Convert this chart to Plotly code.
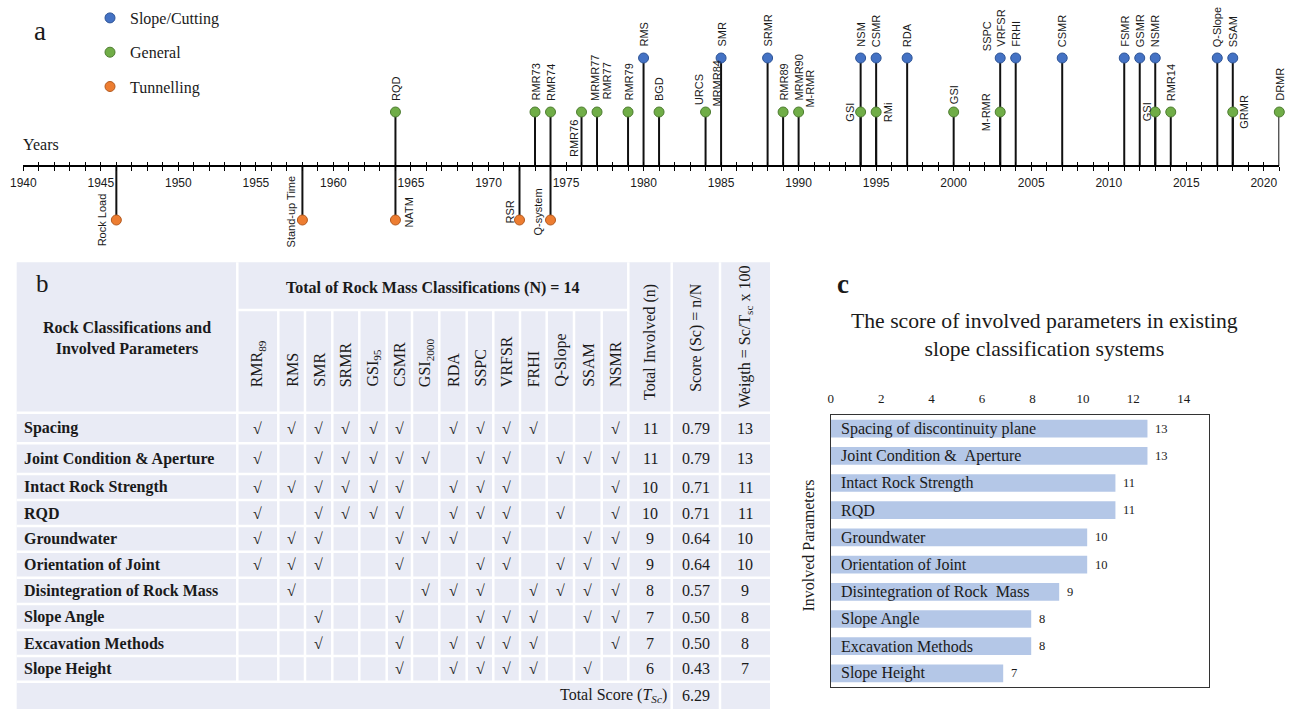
import plotly.graph_objects as go

W, H = 1292, 710

# ---------------- Panel a : timeline data ----------------
slope_years = [1980, 1985, 1988, 1994, 1995, 1997, 2003, 2004, 2007, 2011, 2012, 2013, 2017, 2018]
slope_names = ["RMS", "SMR", "SRMR", "NSM", "CSMR", "RDA", "VRFSR", "FRHI", "CSMR", "FSMR", "GSMR", "NSMR", "Q-Slope", "SSAM"]
general_years = [1964, 1973, 1974, 1976, 1977, 1979, 1981, 1984, 1989, 1990, 1994, 1995, 2000, 2003, 2013, 2014, 2018, 2021]
general_names = ["RQD", "RMR73", "RMR74", "RMR76", "MRMR77", "RMR79", "BGD", "MRMR84", "RMR89", "MRMR90", "GSI", "RMi", "GSI", "M-RMR", "GSI", "RMR14", "GRMR", "DRMR"]
tunnel_years = [1946, 1958, 1964, 1972, 1974]
tunnel_names = ["Rock Load", "Stand-up Time", "NATM", "RSR", "Q-system"]
# extra names that share a marker with another system
extra_groups = ["Slope/Cutting", "General", "General", "General"]
extra_years = [2003, 1977, 1984, 1990]
extra_names = ["SSPC", "RMR77", "URCS", "M-RMR"]

# ---------------- Panel b : table data ----------------
systems = ["RMR<sub>89</sub>", "RMS", "SMR", "SRMR", "GSI<sub>95</sub>", "CSMR", "GSI<sub>2000</sub>",
           "RDA", "SSPC", "VRFSR", "FRHI", "Q-Slope", "SSAM", "NSMR"]
parameters = ["Spacing", "Joint Condition &amp; Aperture", "Intact Rock Strength", "RQD", "Groundwater",
              "Orientation of Joint", "Disintegration of Rock Mass", "Slope Angle", "Excavation Methods", "Slope Height"]
involved = [
    [1, 1, 1, 1, 1, 1, 0, 1, 1, 1, 1, 0, 0, 1],
    [1, 0, 1, 1, 1, 1, 1, 0, 1, 1, 0, 1, 1, 1],
    [1, 1, 1, 1, 1, 1, 0, 1, 1, 1, 0, 0, 0, 1],
    [1, 0, 1, 1, 1, 1, 0, 1, 1, 1, 0, 1, 0, 1],
    [1, 1, 1, 0, 0, 1, 1, 1, 0, 1, 0, 0, 1, 1],
    [1, 1, 1, 0, 0, 1, 0, 0, 1, 1, 0, 1, 1, 1],
    [0, 1, 0, 0, 0, 0, 1, 1, 1, 0, 1, 1, 1, 1],
    [0, 0, 1, 0, 0, 1, 0, 0, 1, 1, 1, 0, 1, 1],
    [0, 0, 1, 0, 0, 1, 0, 1, 1, 1, 1, 0, 0, 1],
    [0, 0, 0, 0, 0, 1, 0, 1, 1, 1, 1, 0, 1, 0],
]
total_involved = ["11", "11", "10", "10", "9", "9", "8", "7", "7", "6"]
scores = ["0.79", "0.79", "0.71", "0.71", "0.64", "0.64", "0.57", "0.50", "0.50", "0.43"]
weights = ["13", "13", "11", "11", "10", "10", "9", "8", "8", "7"]
total_score = "6.29"

# ---------------- Panel c : bar data ----------------
c_params = ["Spacing of discontinuity plane", "Joint Condition & \u00a0Aperture", "Intact Rock Strength", "RQD",
            "Groundwater", "Orientation of Joint", "Disintegration of Rock \u00a0Mass", "Slope Angle",
            "Excavation Methods", "Slope Height"]
c_values = [12.56, 12.56, 11.29, 11.29, 10.17, 10.17, 9.06, 7.95, 7.95, 6.84]
c_labels = ["13", "13", "11", "11", "10", "10", "9", "8", "8", "7"]

# ---------------- styles / layout helpers ----------------
SERIF = "Liberation Serif"
SANS = "Liberation Sans"
INK = "#1a1a1a"
LEVEL = {"Slope/Cutting": 1.0, "General": 0.5, "Tunnelling": -0.5}
COLORS = {"Slope/Cutting": ("#4472C4", "#2F5597"),
          "General": ("#70AD47", "#4E7D31"),
          "Tunnelling": ("#ED7D31", "#B35A1F")}
# label placement: (xshift px, yshift px, yanchor)
PLACE = {
    ("SSPC", 2003): (-13, 5, "bottom"),
    ("RMR76", 1976): (-8, -6, "top"),
    ("MRMR77", 1977): (-2, 9, "bottom"),
    ("RMR77", 1977): (9, 10, "bottom"),
    ("URCS", 1984): (-7, 5, "bottom"),
    ("MRMR84", 1984): (11, 3, "bottom"),
    ("M-RMR", 1990): (11, 2, "bottom"),
    ("GSI", 1994): (-11, 0, "middle"),
    ("RMi", 1995): (12, 0, "middle"),
    ("GSI", 2000): (0, 6, "bottom"),
    ("M-RMR", 2003): (-14, 0, "middle"),
    ("GSI", 2013): (-8, 0, "middle"),
    ("GRMR", 2018): (11, 0, "middle"),
    ("Rock Load", 1946): (-14, 0, "middle"),
    ("Stand-up Time", 1958): (-11, 9, "middle"),
    ("NATM", 1964): (14, 8, "middle"),
    ("RSR", 1972): (-10, 8, "middle"),
    ("Q-system", 1974): (-13, 8, "middle"),
}
AXIS_PX, UNIT_PX, TL_BOTTOM_PX = 166, 108, 250


def px(x):
    return x / W


def py(y):
    return 1 - y / H


fig = go.Figure()

groups = [("Slope/Cutting", slope_years, slope_names),
          ("General", general_years, general_names),
          ("Tunnelling", tunnel_years, tunnel_names)]

# stems
sx, sy = [], []
for g, yrs, _ in groups:
    for yr in yrs:
        sx += [yr, yr, None]
        sy += [0, LEVEL[g], None]
fig.add_trace(go.Scatter(x=sx, y=sy, mode="lines", line=dict(color="#111111", width=2),
                         showlegend=False, hoverinfo="skip", xaxis="x", yaxis="y"))
# dummy trace for overlaid tick axis
fig.add_trace(go.Scatter(x=[1940], y=[None], xaxis="x2", yaxis="y", showlegend=False, hoverinfo="skip"))

for g, yrs, names in groups:
    fill, edge = COLORS[g]
    fig.add_trace(go.Scatter(x=yrs, y=[LEVEL[g]] * len(yrs), mode="markers", name=g, legendgroup=g,
                             marker=dict(size=10, color=fill, line=dict(color=edge, width=1)),
                             cliponaxis=False, text=names, hoverinfo="text+x", xaxis="x", yaxis="y"))

all_labels = [(g, yr, nm) for g, yrs, names in groups for yr, nm in zip(yrs, names)]
all_labels += list(zip(extra_groups, extra_years, extra_names))
for g, yr, nm in all_labels:
    dx, dy, ya = PLACE.get((nm, yr), (0, 9, "bottom"))
    fig.add_annotation(x=yr, y=LEVEL[g], xref="x", yref="y", text=nm, textangle=-90, showarrow=False,
                       xanchor="center", yanchor=ya, xshift=dx, yshift=dy,
                       font=dict(family=SANS, size=11, color=INK))

fig.add_annotation(x=px(40), y=py(31), xref="paper", yref="paper", text="a", showarrow=False,
                   font=dict(family=SERIF, size=27, color=INK), xanchor="center", yanchor="middle")
fig.add_annotation(x=px(21), y=py(145), xref="paper", yref="paper", text="Years", showarrow=False,
                   font=dict(family=SERIF, size=16, color=INK), xanchor="left", yanchor="middle")

# ---------------- Panel b : table ----------------
col_edges = [16.7, 237.3, 278.3, 305, 332.3, 359.3, 386.7, 412, 439.3, 466.7, 493.3, 520, 546.7, 574,
             601.7, 628.3, 671.7, 720, 770]
row_edges = [412.7, 443.3, 474, 500, 526, 551.7, 577.7, 604, 630, 656, 681.7, 709]
T_TOP, H1_BOT = 262.3, 310
TBL_BG = "#E9EBF5"

shapes = [dict(type="rect", xref="paper", yref="paper", x0=px(col_edges[0]), x1=px(col_edges[-1]),
               y0=py(row_edges[-1]), y1=py(T_TOP), fillcolor=TBL_BG, line=dict(width=0), layer="below")]


def wline(x0, y0, x1, y1):
    shapes.append(dict(type="line", xref="paper", yref="paper", x0=px(x0), x1=px(x1), y0=py(y0), y1=py(y1),
                       line=dict(color="white", width=2.5), layer="below"))


wline(col_edges[1], H1_BOT, col_edges[15], H1_BOT)
for ry in row_edges[:-1]:
    wline(col_edges[0], ry, col_edges[-1], ry)
wline(col_edges[1], T_TOP, col_edges[1], row_edges[-2])
for cx in col_edges[2:15]:
    wline(cx, H1_BOT, cx, row_edges[-2])
wline(col_edges[15], T_TOP, col_edges[15], row_edges[-2])
wline(col_edges[16], T_TOP, col_edges[16], row_edges[-1])
wline(col_edges[17], T_TOP, col_edges[17], row_edges[-1])


def ann(x, y, text, size=16, xa="center", ya="middle", angle=0, family=SERIF):
    fig.add_annotation(x=px(x), y=py(y), xref="paper", yref="paper", text=text, showarrow=False,
                       xanchor=xa, yanchor=ya, textangle=angle, font=dict(family=family, size=size, color=INK))


ann(42, 283, "b", size=25)
ann(127, 338, "<b>Rock Classifications and<br>Involved Parameters</b>", size=16)
ann((col_edges[1] + col_edges[15]) / 2, 288, "<b>Total of Rock Mass Classifications (N) = 14</b>", size=16)
for j, s in enumerate(systems):
    cx = (col_edges[1 + j] + col_edges[2 + j]) / 2
    ann(cx, 389, s, size=16, ya="bottom", angle=-90)
ann((col_edges[15] + col_edges[16]) / 2, 342, "Total Involved (n)", size=16, angle=-90)
ann((col_edges[16] + col_edges[17]) / 2, 337, "Score (Sc) = n/N", size=16, angle=-90)
ann((col_edges[17] + col_edges[18]) / 2, 337, "Weigth = Sc/T<sub>sc</sub> x 100", size=16, angle=-90)

for i, p in enumerate(parameters):
    cy = (row_edges[i] + row_edges[i + 1]) / 2
    ann(21.5, cy, "<b>" + p + "</b>", size=16, xa="left")
    for j in range(len(systems)):
        if involved[i][j]:
            cx = (col_edges[1 + j] + col_edges[2 + j]) / 2
            ann(cx, cy, "\u221a", size=16)
    ann((col_edges[15] + col_edges[16]) / 2, cy, total_involved[i], size=16)
    ann((col_edges[16] + col_edges[17]) / 2, cy, scores[i], size=16)
    ann((col_edges[17] + col_edges[18]) / 2, cy, weights[i], size=16)
cy = (row_edges[-2] + row_edges[-1]) / 2
ann(col_edges[16] - 3, cy, "Total Score (<i>T<sub>Sc</sub></i>)", size=16, xa="right")
ann((col_edges[16] + col_edges[17]) / 2, cy, total_score, size=16)

# ---------------- Panel c : bar chart ----------------
fig.add_trace(go.Bar(x=c_values, y=c_params, orientation="h", xaxis="x3", yaxis="y3",
                     marker=dict(color="#B4C7E7", line=dict(width=0)), showlegend=False, hoverinfo="x+y"))
for p, v, lab in zip(c_params, c_values, c_labels):
    fig.add_annotation(x=0, y=p, xref="x3", yref="y3", text=p, showarrow=False, xanchor="left", xshift=8,
                       font=dict(family=SERIF, size=16, color=INK))
    fig.add_annotation(x=v, y=p, xref="x3", yref="y3", text=lab, showarrow=False, xanchor="left", xshift=6,
                       font=dict(family=SERIF, size=12.5, color=INK))

ann(842.5, 284, "<b>c</b>", size=27)
ann(1044.5, 335, "The score of involved parameters in existing<br>slope classification systems", size=21.7)
ann(807.5, 546, "Involved Parameters", size=16, angle=-90)

fig.update_layout(
    width=W, height=H, margin=dict(l=0, r=0, t=0, b=0, autoexpand=False),
    paper_bgcolor="white", plot_bgcolor="rgba(0,0,0,0)",
    shapes=shapes, bargap=0.35, hovermode="closest",
    showlegend=True,
    legend=dict(x=px(90), y=py(1), xanchor="left", yanchor="top", bgcolor="rgba(0,0,0,0)",
                font=dict(family=SERIF, size=16, color=INK), tracegroupgap=10.5, itemclick=False,
                itemdoubleclick=False),
    xaxis=dict(domain=[px(23.3), px(1279.3)], range=[1940, 2021], anchor="free", position=py(AXIS_PX),
               showline=True, linecolor="black", linewidth=1.5, showgrid=False, zeroline=False,
               ticks="outside", ticklen=4, tickwidth=1.2, tickcolor="black", tick0=1940, dtick=5,
               minor=dict(ticks="outside", dtick=1, tick0=1940, ticklen=4, tickwidth=1.2, tickcolor="black"),
               tickfont=dict(family=SANS, size=12, color=INK), ticklabelstandoff=2, automargin=False,
               fixedrange=True),
    xaxis2=dict(domain=[px(23.3), px(1279.3)], range=[1940, 2021], overlaying="x", anchor="free",
                position=py(AXIS_PX), showline=False, showgrid=False, zeroline=False, showticklabels=False,
                ticks="inside", ticklen=4, tickwidth=1.2, tickcolor="black", tick0=1940, dtick=5,
                minor=dict(ticks="inside", dtick=1, tick0=1940, ticklen=4, tickwidth=1.2, tickcolor="black"),
                automargin=False, fixedrange=True),
    yaxis=dict(domain=[py(TL_BOTTOM_PX), 1], range=[(AXIS_PX - TL_BOTTOM_PX) / UNIT_PX, AXIS_PX / UNIT_PX],
               visible=False, automargin=False, fixedrange=True),
    xaxis3=dict(domain=[px(830.7), px(1209)], anchor="y3", side="top", range=[0, 15],
                tickvals=[0, 2, 4, 6, 8, 10, 12, 14], showline=True, mirror=True, linecolor="#333",
                linewidth=1.2, showgrid=False, zeroline=False, ticks="", ticklabelstandoff=6,
                tickfont=dict(family=SERIF, size=13, color=INK), automargin=False, fixedrange=True),
    yaxis3=dict(domain=[py(687), py(415)], anchor="x3", autorange="reversed", type="category",
                showline=True, mirror=True, linecolor="#333", linewidth=1.2, showticklabels=False,
                ticks="", showgrid=False, zeroline=False, automargin=False, fixedrange=True),
)

fig.write_html("out.html", config={"displayModeBar": False},
               post_script="document.body.style.margin='0';")
